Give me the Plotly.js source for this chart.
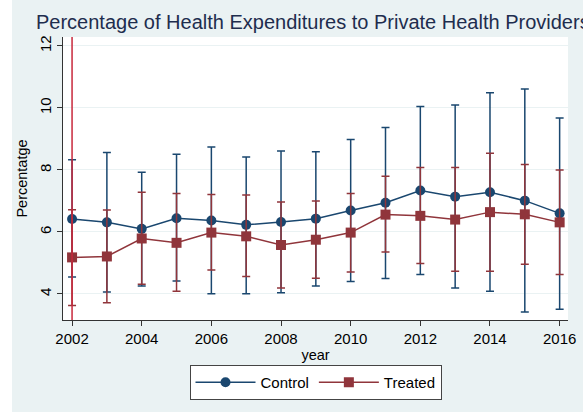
<!DOCTYPE html>
<html>
<head>
<meta charset="utf-8">
<script src="https://cdn.plot.ly/plotly-3.0.1.min.js"></script>
<style>
  html, body { margin: 0; padding: 0; background: #ffffff; }
  #chart { position: absolute; left: 12px; top: 0; width: 571px; height: 412px; }
</style>
</head>
<body>
<div id="chart"></div>
<script>
const years = [2002, 2003, 2004, 2005, 2006, 2007, 2008, 2009, 2010, 2011, 2012, 2013, 2014, 2015, 2016];

const controlMean  = [6.42, 6.31, 6.10, 6.44, 6.37, 6.23, 6.32, 6.43, 6.69, 6.94, 7.34, 7.14, 7.28, 7.01, 6.60];
const controlUpper = [8.33, 8.56, 7.93, 8.51, 8.74, 8.42, 8.61, 8.59, 8.98, 9.37, 10.05, 10.10, 10.49, 10.61, 9.68];
const controlLower = [4.55, 4.06, 4.26, 4.42, 4.01, 4.01, 4.04, 4.26, 4.40, 4.50, 4.63, 4.19, 4.09, 3.42, 3.51];

const treatedMean  = [5.18, 5.21, 5.79, 5.65, 5.98, 5.86, 5.58, 5.75, 5.98, 6.56, 6.52, 6.40, 6.64, 6.57, 6.31];
const treatedUpper = [6.72, 6.71, 7.28, 7.24, 7.21, 7.19, 6.97, 7.00, 7.24, 7.80, 8.08, 8.08, 8.54, 8.18, 8.00];
const treatedLower = [3.63, 3.72, 4.31, 4.09, 4.77, 4.56, 4.19, 4.51, 4.71, 5.35, 4.98, 4.73, 4.73, 4.96, 4.63];

const xTicks = [2002, 2004, 2006, 2008, 2010, 2012, 2014, 2016];
const yTicks = [4, 6, 8, 10, 12];
const refYear = [2002];

const seriesNames = ['Control', 'Treated'];
const titleText = 'Percentage of Health Expenditures to Private Health Providers';
const xTitle = 'year';
const yTitle = 'Percentatge';

const navy = '#1a476f';
const maroon = '#90353b';
const bg = '#eaf2f3';

function diff(a, b) { return a.map((v, i) => +(v - b[i]).toFixed(3)); }

const traces = [
  {
    x: years, y: controlMean, name: seriesNames[0], type: 'scatter', mode: 'lines+markers',
    line: { color: navy, width: 1.5 },
    marker: { color: navy, size: 10, symbol: 'circle' },
    error_y: { type: 'data', symmetric: false, array: diff(controlUpper, controlMean), arrayminus: diff(controlMean, controlLower),
               color: navy, thickness: 1.5, width: 4 }
  },
  {
    x: years, y: treatedMean, name: seriesNames[1], type: 'scatter', mode: 'lines+markers',
    line: { color: maroon, width: 1.5 },
    marker: { color: maroon, size: 10, symbol: 'square' },
    error_y: { type: 'data', symmetric: false, array: diff(treatedUpper, treatedMean), arrayminus: diff(treatedMean, treatedLower),
               color: maroon, thickness: 1.5, width: 4 }
  }
];

const shapes = refYear.map(yr => ({
  type: 'line', xref: 'x', yref: 'paper', x0: yr, x1: yr, y0: 0, y1: 1,
  line: { color: '#c8283c', width: 1.5 }, layer: 'above'
}));

const layout = {
  width: 571, height: 412,
  paper_bgcolor: bg, plot_bgcolor: '#ffffff',
  font: { family: '"Liberation Sans", Arial, Helvetica, sans-serif', color: '#000000', size: 15 },
  margin: { l: 50.5, r: 15, t: 37, b: 92 },
  title: {
    text: titleText, font: { size: 20, color: '#1e2d4e' },
    x: 24 / 571, xanchor: 'left', xref: 'container',
    y: 1 - 22 / 412, yanchor: 'middle', yref: 'container'
  },
  xaxis: {
    range: [2001.74, 2016.24], tickvals: xTicks, ticktext: xTicks.map(String),
    ticks: 'outside', ticklen: 5, tickwidth: 1, tickcolor: '#333333',
    showline: true, linecolor: '#333333', linewidth: 1, showgrid: false, zeroline: false,
    tickfont: { size: 15 },
    title: { text: xTitle, font: { size: 14.5 }, standoff: 3 }
  },
  yaxis: {
    range: [3.16, 12.29], tickvals: yTicks, ticktext: yTicks.map(String),
    ticks: 'outside', ticklen: 5, tickwidth: 1, tickcolor: '#333333', tickangle: -90,
    showline: true, linecolor: '#333333', linewidth: 1,
    showgrid: true, gridcolor: bg, gridwidth: 1, zeroline: false,
    tickfont: { size: 15 },
    title: { text: yTitle, font: { size: 14.5 }, standoff: 5 }
  },
  legend: {
    orientation: 'h', x: 0.5, xanchor: 'center', y: -0.159, yanchor: 'top',
    bgcolor: '#ffffff', bordercolor: '#444444', borderwidth: 1,
    font: { size: 15 }, itemwidth: 60, traceorder: 'normal'
  },
  shapes: shapes,
  showlegend: true
};

Plotly.newPlot('chart', traces, layout, { displayModeBar: false, staticPlot: true });
</script>
</body>
</html>
